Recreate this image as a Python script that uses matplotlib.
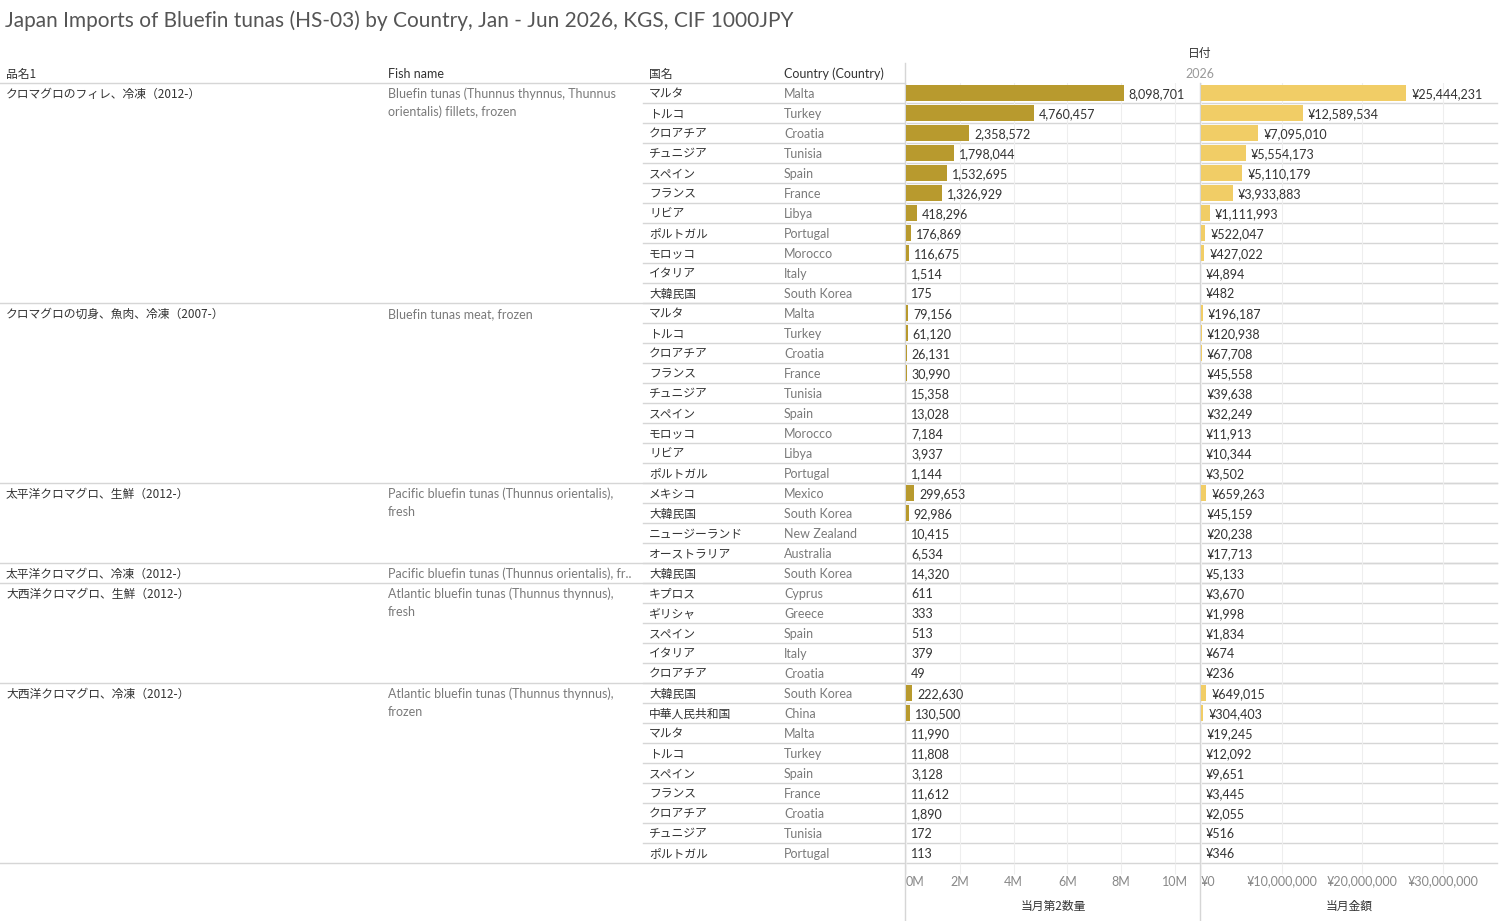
import matplotlib
matplotlib.use("Agg")
import matplotlib.pyplot as plt
from matplotlib.ticker import FuncFormatter

plt.rcParams['font.family'] = ['Lato', 'Noto Sans CJK JP', 'DejaVu Sans']
JP = ['Noto Sans CJK JP', 'DejaVu Sans']

# groups: (品名1, fish name lines, number of rows)
group_jp = ["クロマグロのフィレ、冷凍（2012-）", "クロマグロの切身、魚肉、冷凍（2007-）",
            "太平洋クロマグロ、生鮮（2012-）", "太平洋クロマグロ、冷凍（2012-）",
            "大西洋クロマグロ、生鮮（2012-）", "大西洋クロマグロ、冷凍（2012-）"]
group_en = [["Bluefin tunas (Thunnus thynnus, Thunnus", "orientalis) fillets, frozen"],
            ["Bluefin tunas meat, frozen"],
            ["Pacific bluefin tunas (Thunnus orientalis),", "fresh"],
            ["Pacific bluefin tunas (Thunnus orientalis), fr.."],
            ["Atlantic bluefin tunas (Thunnus thynnus),", "fresh"],
            ["Atlantic bluefin tunas (Thunnus thynnus),", "frozen"]]
group_size = [11, 9, 4, 1, 5, 9]

country_jp = ["マルタ", "トルコ", "クロアチア", "チュニジア", "スペイン", "フランス", "リビア",
              "ポルトガル", "モロッコ", "イタリア", "大韓民国",
              "マルタ", "トルコ", "クロアチア", "フランス", "チュニジア", "スペイン", "モロッコ",
              "リビア", "ポルトガル",
              "メキシコ", "大韓民国", "ニュージーランド", "オーストラリア",
              "大韓民国",
              "キプロス", "ギリシャ", "スペイン", "イタリア", "クロアチア",
              "大韓民国", "中華人民共和国", "マルタ", "トルコ", "スペイン", "フランス",
              "クロアチア", "チュニジア", "ポルトガル"]
country_en = ["Malta", "Turkey", "Croatia", "Tunisia", "Spain", "France", "Libya",
              "Portugal", "Morocco", "Italy", "South Korea",
              "Malta", "Turkey", "Croatia", "France", "Tunisia", "Spain", "Morocco",
              "Libya", "Portugal",
              "Mexico", "South Korea", "New Zealand", "Australia",
              "South Korea",
              "Cyprus", "Greece", "Spain", "Italy", "Croatia",
              "South Korea", "China", "Malta", "Turkey", "Spain", "France",
              "Croatia", "Tunisia", "Portugal"]
quantity = [8098701, 4760457, 2358572, 1798044, 1532695, 1326929, 418296, 176869, 116675, 1514, 175,
            79156, 61120, 26131, 30990, 15358, 13028, 7184, 3937, 1144,
            299653, 92986, 10415, 6534,
            14320,
            611, 333, 513, 379, 49,
            222630, 130500, 11990, 11808, 3128, 11612, 1890, 172, 113]
amount = [25444231, 12589534, 7095010, 5554173, 5110179, 3933883, 1111993, 522047, 427022, 4894, 482,
          196187, 120938, 67708, 45558, 39638, 32249, 11913, 10344, 3502,
          659263, 45159, 20238, 17713,
          5133,
          3670, 1998, 1834, 674, 236,
          649015, 304403, 19245, 12092, 9651, 3445, 2055, 516, 346]

W, H = 1499, 921
TOP, ROW = 83, 20
n = len(country_jp)
BOTTOM = TOP + ROW * n
dark = "#333333"
grey = "#7a7a7a"
line_c = "#d6d6d6"
fs = 9

fig = plt.figure(figsize=(W / 100, H / 100), dpi=100)
bg = fig.add_axes([0, 0, 1, 1])
bg.set_xlim(0, W)
bg.set_ylim(H, 0)
bg.axis("off")

bg.text(5, 21, "Japan Imports of Bluefin tunas (HS-03) by Country, Jan - Jun 2026, KGS, CIF 1000JPY",
        fontsize=15, color="#555555", va="center", ha="left")

# headers
bg.text(6, 74, "品名1", fontsize=8.5, family=JP, color=dark, va="center")
bg.text(649, 74, "国名", fontsize=8.5, family=JP, color=dark, va="center")
bg.text(388, 74, "Fish name", fontsize=fs, color=dark, va="center")
bg.text(784, 74, "Country (Country)", fontsize=fs, color=dark, va="center")
bg.text(1200, 53, "日付", fontsize=8.5, family=JP, color=dark, va="center", ha="center")
bg.text(1200, 74, "2026", fontsize=fs, color="#999999", va="center", ha="center")
bg.plot([0, 905], [TOP, TOP], color=line_c, lw=1)
bg.plot([905, 905], [63, H], color=line_c, lw=1)
bg.plot([1200, 1200], [TOP, H], color=line_c, lw=1)

# rows
for i in range(n):
    y = TOP + ROW * i + ROW / 2
    bg.text(649, y + 1, country_jp[i], fontsize=8.5, family=JP, color=dark, va="center")
    bg.text(784, y + 1, country_en[i], fontsize=fs, color=grey, va="center")
    if i > 0:
        bg.plot([643, 1497], [TOP + ROW * i] * 2, color=line_c, lw=1)

start = 0
for jp, en, size in zip(group_jp, group_en, group_size):
    y = TOP + ROW * start + ROW / 2
    bg.text(6, y + 1, jp, fontsize=8.5, family=JP, color=dark, va="center")
    for k, line in enumerate(en):
        bg.text(388, y + 1 + 18 * k, line, fontsize=fs, color=grey, va="center")
    if start > 0:
        bg.plot([0, 1497], [TOP + ROW * start] * 2, color=line_c, lw=1)
    start += size
bg.plot([0, 1497], [BOTTOM, BOTTOM], color=line_c, lw=1)

# bar panels
ax_h = (BOTTOM - TOP) / H
ax_b = (H - BOTTOM) / H
ax1 = fig.add_axes([906 / W, ax_b, 294 / W, ax_h])
ax2 = fig.add_axes([1201 / W, ax_b, 296 / W, ax_h])
rows = [i + 0.5 for i in range(n)]

panels = [
    (ax1, quantity, "#b89a2e", 10.93e6, [0, 2e6, 4e6, 6e6, 8e6, 10e6],
     lambda v, p: f"{v / 1e6:.0f}M", lambda v: f"{v:,}", "当月第2数量"),
    (ax2, amount, "#f1cd66", 36.7e6, [0, 10e6, 20e6, 30e6],
     lambda v, p: f"¥{v:,.0f}", lambda v: f"¥{v:,}", "当月金額"),
]
for ax, vals, color, xmax, ticks, tickfmt, labfmt, title in panels:
    ax.barh(rows, vals, height=0.8, color=color, zorder=3)
    ax.set_xlim(0, xmax)
    ax.set_ylim(n, 0)
    ax.patch.set_alpha(0)
    for s in ax.spines.values():
        s.set_visible(False)
    ax.set_yticks([])
    ax.set_xticks(ticks)
    ax.xaxis.set_major_formatter(FuncFormatter(tickfmt))
    ax.tick_params(axis="x", length=8, color="#eeeeee", labelcolor="#888888",
                   labelsize=fs, pad=1)
    ax.grid(axis="x", color="#eeeeee", lw=0.8, zorder=0)
    ax.get_xticklabels()[0].set_ha("left")
    px = xmax / ax.bbox.width
    for r, v in zip(rows, vals):
        ax.text(v + 5 * px, r + 0.05, labfmt(v), fontsize=fs, color=dark, va="center", ha="left")
    ax.set_xlabel(title, fontsize=8.5, family=JP, color=dark, labelpad=9)

fig.savefig("out.png", dpi=100)
